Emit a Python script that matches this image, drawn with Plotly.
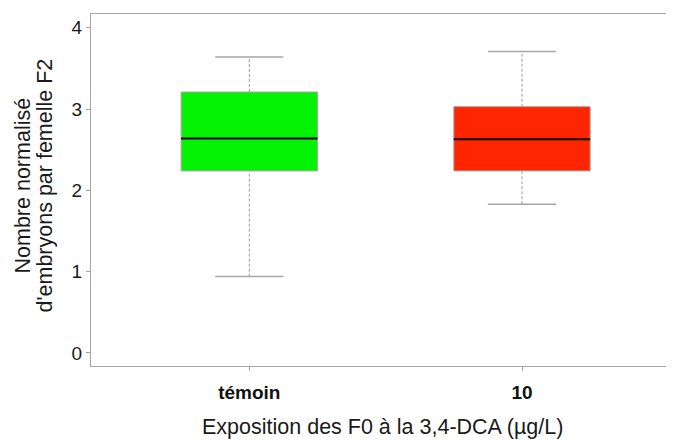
import plotly.graph_objects as go

categories = ["témoin", "10"]
q1 = [2.24, 2.24]
median = [2.64, 2.63]
q3 = [3.21, 3.03]
lower_whisker = [0.94, 1.83]
upper_whisker = [3.64, 3.71]
fill_colors = ["#04F204", "#FF2500"]
y_ticks = [0, 1, 2, 3, 4]
x_title = "Exposition des F0 à la 3,4-DCA (µg/L)"
y_title_lines = ["Nombre normalisé", "d'embryons par femelle F2"]

positions = list(range(len(categories)))
box_width = 0.5
cap_half = 0.125
edge = "#A6A6A6"
font_family = "Liberation Sans, Arial, sans-serif"

fig = go.Figure()
for i, pos in enumerate(positions):
    fig.add_trace(go.Box(
        x=[pos], q1=[q1[i]], median=[median[i]], q3=[q3[i]],
        lowerfence=[q1[i]], upperfence=[q3[i]],
        width=box_width, fillcolor=fill_colors[i],
        line=dict(color=edge, width=1), whiskerwidth=0,
        showlegend=False, hoverinfo="skip",
    ))
    # dashed whiskers
    fig.add_trace(go.Scatter(
        x=[pos, pos, None, pos, pos],
        y=[lower_whisker[i], q1[i], None, q3[i], upper_whisker[i]],
        mode="lines", line=dict(color="#9A9A9A", width=1, dash="3px,2px"),
        showlegend=False, hoverinfo="skip",
    ))
    # caps
    fig.add_trace(go.Scatter(
        x=[pos - cap_half, pos + cap_half, None, pos - cap_half, pos + cap_half],
        y=[lower_whisker[i], lower_whisker[i], None, upper_whisker[i], upper_whisker[i]],
        mode="lines", line=dict(color=edge, width=1.5),
        showlegend=False, hoverinfo="skip",
    ))
    # median
    fig.add_trace(go.Scatter(
        x=[pos - box_width / 2, pos + box_width / 2],
        y=[median[i], median[i]],
        mode="lines", line=dict(color="#000000", width=2),
        showlegend=False, hoverinfo="skip",
    ))

annotations = [
    dict(text=x_title, xref="paper", yref="paper", x=0.5, y=-0.1733,
         xanchor="center", yanchor="middle", showarrow=False,
         font=dict(size=21.5, color="#1a1a1a")),
]
for xp, line in zip([-0.1159, -0.0781], y_title_lines):
    annotations.append(dict(
        text=line, xref="paper", yref="paper", x=xp, y=0.514,
        xanchor="center", yanchor="middle", textangle=-90, showarrow=False,
        font=dict(size=21.5, color="#1a1a1a")))

# page body has an 8px default margin: figure sized to fit the 674x440 window
fig.update_layout(
    width=666, height=432,
    margin=dict(l=83, r=0, t=6, b=74, autoexpand=False),
    plot_bgcolor="white", paper_bgcolor="white",
    boxmode="overlay",
    font=dict(family=font_family, color="#1a1a1a"),
    annotations=annotations,
    xaxis=dict(
        range=[-0.5805, 1.5574],
        tickvals=positions,
        ticktext=["<b>%s</b>" % c for c in categories],
        tickfont=dict(size=19, color="#111111"),
        ticks="outside", ticklen=4, tickcolor=edge,
        ticklabelstandoff=5,
        showline=True, linecolor=edge, linewidth=1, mirror=True,
        showgrid=False, zeroline=False, automargin=False,
    ),
    yaxis=dict(
        range=[-0.16, 4.17],
        tickvals=y_ticks,
        tickfont=dict(size=19, color="#1a1a1a"),
        ticks="outside", ticklen=4, tickcolor=edge,
        showline=True, linecolor=edge, linewidth=1,
        showgrid=False, zeroline=False, automargin=False,
    ),
)

fig.write_html("out.html")
